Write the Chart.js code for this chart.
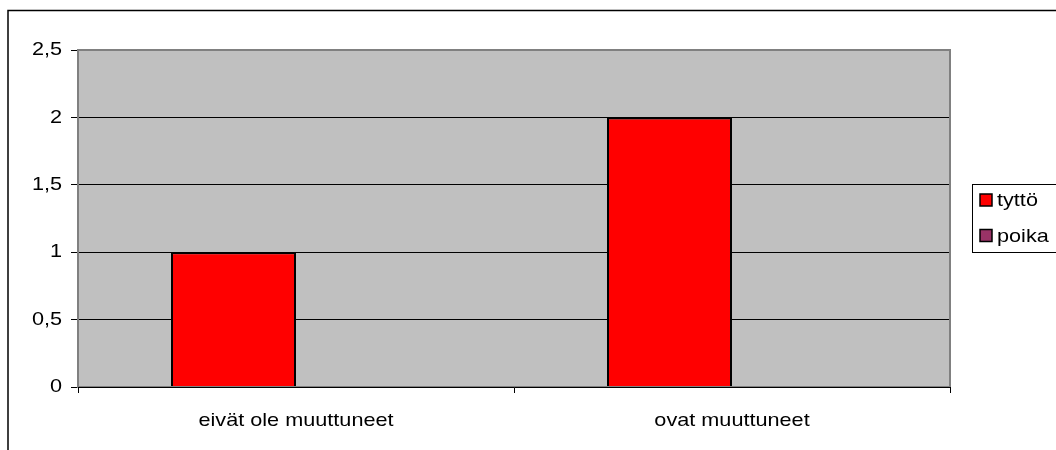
<!DOCTYPE html>
<html>
<head>
<meta charset="utf-8">
<script src="https://cdn.jsdelivr.net/npm/chart.js@4.4.0/dist/chart.umd.min.js"></script>
<style>
  html, body { margin: 0; padding: 0; background: #fff; }
  #wrap { width: 1056px; height: 450px; }
</style>
</head>
<body>
<div id="wrap"><canvas id="chart" width="1056" height="450"></canvas></div>
<script>
// data
const categories = ["eivät ole muuttuneet", "ovat muuttuneet"];
const tyttoValues = [1, 2];
const poikaValues = [0, 0];
const seriesNames = ["tyttö", "poika"];
const seriesColors = ["#FF0000", "#993366"];

const fontFamily = "'Liberation Sans', Arial, sans-serif";
const fontSize = 19;
const textStretch = 1.14; // the original text is a little wider than plain Arial

// text in the original is stretched sideways, lines are not
const stretchText = {
  id: "stretchText",
  beforeDraw(chart) {
    const ctx = chart.ctx;
    if (ctx._stretched) return;
    const orig = ctx.fillText.bind(ctx);
    ctx.fillText = function (t, x, y) {
      this.save();
      this.translate(x, y);
      this.scale(textStretch, 1);
      orig(t, 0, 0);
      this.restore();
    };
    ctx._stretched = true;
  }
};

const plotBackground = {
  id: "plotBackground",
  beforeDraw(chart) {
    const { ctx, chartArea: a } = chart;
    ctx.save();
    ctx.fillStyle = "#fff";
    ctx.fillRect(0, 0, chart.width, chart.height);
    ctx.fillStyle = "#C0C0C0";
    ctx.fillRect(a.left, a.top, a.right - a.left, a.bottom - a.top);
    ctx.restore();
  },
  afterDraw(chart) {
    const { ctx, chartArea: a } = chart;
    ctx.save();
    // plot frame
    ctx.strokeStyle = "#808080";
    ctx.lineWidth = 2;
    ctx.strokeRect(a.left, a.top, a.right - a.left, a.bottom - a.top);
    ctx.strokeStyle = "#000";
    ctx.lineWidth = 1;
    ctx.beginPath();
    ctx.moveTo(a.left, a.bottom + 0.5);
    ctx.lineTo(a.right + 1, a.bottom + 0.5);
    ctx.stroke();

    // outer chart border (runs off the right and bottom)
    ctx.lineWidth = 1.5;
    ctx.beginPath();
    ctx.moveTo(8, chart.height + 2);
    ctx.lineTo(8, 10.5);
    ctx.lineTo(chart.width + 2, 10.5);
    ctx.stroke();

    // legend
    ctx.fillStyle = "#fff";
    ctx.fillRect(972, 184, 90, 68);
    ctx.strokeStyle = "#000";
    ctx.lineWidth = 1;
    ctx.strokeRect(972.5, 184.5, 90, 68);
    const rows = [200, 235.5];
    chart.data.datasets.forEach((ds, i) => {
      const cy = rows[i];
      ctx.fillStyle = ds.backgroundColor;
      ctx.fillRect(980, cy - 6, 12, 12);
      ctx.lineWidth = 1.5;
      ctx.strokeRect(980, cy - 6, 12, 12);
      ctx.fillStyle = "#000";
      ctx.font = fontSize + "px " + fontFamily;
      ctx.textAlign = "left";
      ctx.textBaseline = "middle";
      ctx.fillText(ds.label, 997, cy + 1);
    });
    ctx.restore();
  }
};

new Chart(document.getElementById("chart"), {
  type: "bar",
  data: {
    labels: categories,
    datasets: [
      {
        label: seriesNames[0],
        data: tyttoValues,
        backgroundColor: seriesColors[0],
        borderColor: "#000",
        borderWidth: 2,
        categoryPercentage: 0.5734,
        barPercentage: 1.0
      },
      {
        label: seriesNames[1],
        data: poikaValues,
        backgroundColor: seriesColors[1],
        borderColor: "#000",
        borderWidth: 2,
        categoryPercentage: 0.5734,
        barPercentage: 1.0
      }
    ]
  },
  options: {
    responsive: false,
    animation: false,
    layout: { padding: { top: 50, right: 106, left: 0, bottom: 0 } },
    plugins: {
      legend: { display: false },
      tooltip: { enabled: false }
    },
    scales: {
      x: {
        afterFit(scale) { scale.height = 63; },
        grid: {
          offset: true,
          drawOnChartArea: false,
          drawTicks: true,
          tickLength: 6,
          color: "#000"
        },
        border: { display: false },
        ticks: {
          color: "#000",
          padding: 16,
          font: { family: fontFamily, size: fontSize }
        }
      },
      y: {
        min: 0,
        max: 2.5,
        afterFit(scale) { scale.width = 78; },
        grid: {
          color: "#000",
          lineWidth: 1,
          drawTicks: true,
          tickLength: 7
        },
        border: { display: false },
        ticks: {
          stepSize: 0.5,
          color: "#000",
          padding: 9,
          font: { family: fontFamily, size: fontSize },
          callback: (v) => String(v).replace(".", ",")
        }
      }
    }
  },
  plugins: [stretchText, plotBackground]
});
</script>
</body>
</html>
